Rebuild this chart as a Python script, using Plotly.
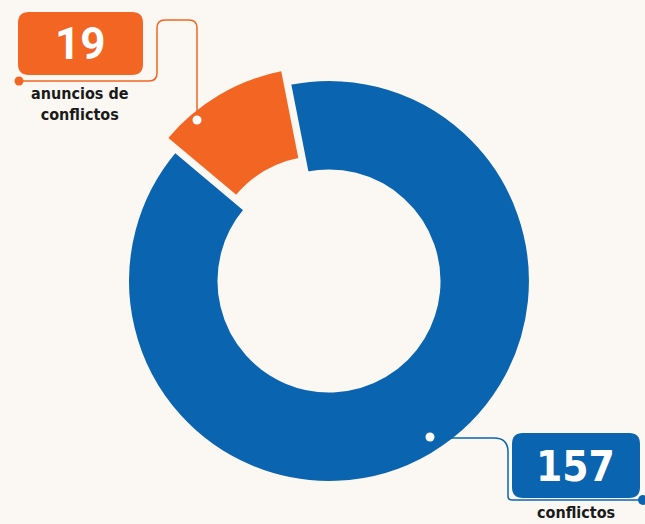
import plotly.graph_objects as go

W, H = 645, 524

categories = ["anuncios de conflictos", "conflictos"]
values = [19, 157]
value_labels = ["19", "157"]
colors = ["#f26522", "#0a64b0"]
bg = "#fbf8f3"

def px(x):
    return x / W

def py(y):
    return 1 - y / H

def path(cmds):
    out = []
    for c in cmds:
        if isinstance(c, str):
            out.append(c)
        else:
            out.append(f"{px(c[0]):.5f},{py(c[1]):.5f}")
    return " ".join(out)

def rrect(x0, y0, x1, y1, r):
    return path(["M", (x0 + r, y0), "L", (x1 - r, y0), "Q", (x1, y0), (x1, y0 + r),
                 "L", (x1, y1 - r), "Q", (x1, y1), (x1 - r, y1),
                 "L", (x0 + r, y1), "Q", (x0, y1), (x0, y1 - r),
                 "L", (x0, y0 + r), "Q", (x0, y0), (x0 + r, y0), "Z"])

def circ(cx, cy, r, fill):
    return dict(type="circle", xref="paper", yref="paper",
                x0=px(cx - r), x1=px(cx + r), y0=py(cy + r), y1=py(cy - r),
                fillcolor=fill, line=dict(width=0), layer="above")

# pie placement (pixels)
cx, cy, half = 329, 281, 217
fig = go.Figure(go.Pie(
    labels=categories, values=values, sort=False, direction="counterclockwise",
    rotation=-50, hole=0.55, pull=[0.08, 0],
    marker=dict(colors=colors, line=dict(color=bg, width=2)),
    textinfo="none", hoverinfo="skip", showlegend=False,
    domain=dict(x=[px(cx - half), px(cx + half)], y=[py(cy + half), py(cy - half)]),
))

shapes = []
# orange label box and connector
shapes.append(dict(type="path", xref="paper", yref="paper", path=rrect(18, 12, 143, 75, 11),
                   fillcolor=colors[0], line=dict(width=0), layer="above"))
shapes.append(dict(type="path", xref="paper", yref="paper",
                   path=path(["M", (19, 81), "L", (149, 81), "Q", (157, 81), (157, 73),
                              "L", (157, 28), "Q", (157, 20), (165, 20), "L", (189, 20),
                              "Q", (197, 20), (197, 28), "L", (197, 120)]),
                   line=dict(color=colors[0], width=1.5), layer="above"))
shapes.append(circ(19, 81, 4.5, colors[0]))
shapes.append(circ(197, 120, 4.5, "white"))

# blue label box and connector
shapes.append(dict(type="path", xref="paper", yref="paper", path=rrect(512, 433, 640, 498, 11),
                   fillcolor=colors[1], line=dict(width=0), layer="above"))
shapes.append(dict(type="path", xref="paper", yref="paper",
                   path=path(["M", (430, 438), "L", (494, 438), "Q", (508, 438), (508, 452),
                              "L", (508, 496), "Q", (508, 500), (512, 500), "L", (643, 500)]),
                   line=dict(color=colors[1], width=1.5), layer="above"))
shapes.append(circ(643, 500, 5, colors[1]))
shapes.append(circ(430, 437, 4.5, "white"))

narrow = "DejaVu Sans Condensed, Liberation Sans Narrow, Roboto, sans-serif"
annotations = [
    dict(text=f"<b>{value_labels[0]}</b>", x=px(80), y=py(44), font=dict(size=44, color="white", family="Roboto, Arial, sans-serif", weight=900)),
    dict(text=f"<b>{value_labels[1]}</b>", x=px(575), y=py(466), font=dict(size=42, color="white", family=narrow)),
    dict(text="<b>anuncios de<br>conflictos</b>", x=px(80), y=py(104), font=dict(size=16, color="#1a1a1a", family=narrow)),
    dict(text="<b>conflictos</b>", x=px(576), y=py(512), font=dict(size=16, color="#1a1a1a", family=narrow)),
]
for a in annotations:
    a.update(xref="paper", yref="paper", xanchor="center", yanchor="middle", showarrow=False)

fig.update_layout(
    width=W, height=H, margin=dict(l=0, r=0, t=0, b=0),
    paper_bgcolor=bg, plot_bgcolor=bg,
    shapes=shapes, annotations=annotations,
)
fig.write_html("out.html", config={"displayModeBar": False},
               post_script="document.body.style.margin='0';document.body.style.background='" + bg + "';")
